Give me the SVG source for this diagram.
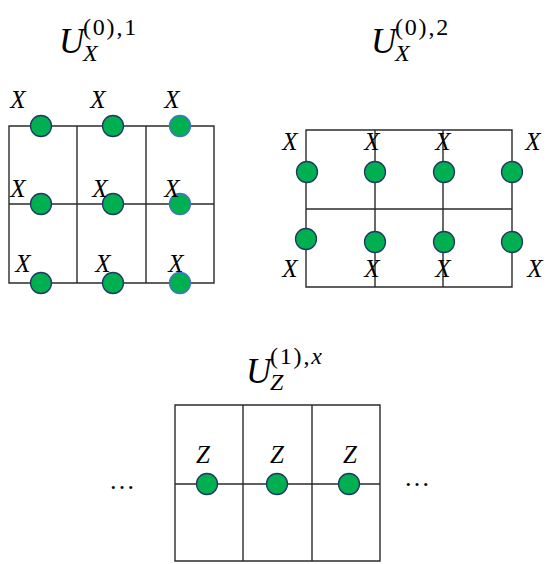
<svg xmlns="http://www.w3.org/2000/svg" width="555" height="564" viewBox="0 0 555 564">
<style>
.g{fill:none;stroke:#2b2b2b;stroke-width:1.4}
.q{fill:#00b050;stroke:#1f3864;stroke-width:1.3}
.qb{fill:#00b050;stroke:#4472c4;stroke-width:1.3}
.l{font-family:"Liberation Serif",serif;font-style:italic;font-size:25px;fill:#000;text-anchor:middle}
.U{font-family:"Liberation Serif",serif;font-style:italic;font-size:35px;fill:#000}
.s{font-family:"Liberation Serif",serif;font-size:24px;letter-spacing:1.8px;fill:#000}
.si{font-family:"Liberation Serif",serif;font-style:italic;font-size:24px;fill:#000}
.d{font-family:"Liberation Serif",serif;font-size:26px;fill:#000;text-anchor:middle}
</style>
<rect width="555" height="564" fill="#fff"/>
<g id="panel1">
  <text class="U" x="59" y="53">U</text>
  <text class="s" x="83" y="35">(0),1</text>
  <text class="si" x="83" y="61">X</text>
  <g id="grid1-lines">
    <path class="g" d="M9 126H214V283H9Z M77 126V283 M146 126V283 M9 204H214"/>
  </g>
  <g id="grid1-qubits">
    <circle class="q" cx="41" cy="126" r="10.5"/>
    <circle class="q" cx="113" cy="126" r="10.5"/>
    <circle class="qb" cx="180" cy="126" r="10.5"/>
    <circle class="q" cx="41" cy="204" r="10.5"/>
    <circle class="q" cx="113" cy="204" r="10.5"/>
    <circle class="qb" cx="180" cy="204" r="10.5"/>
    <circle class="q" cx="41" cy="283" r="10.5"/>
    <circle class="q" cx="113" cy="283" r="10.5"/>
    <circle class="qb" cx="180" cy="283" r="10.5"/>
    <text class="l" x="18" y="108">X</text>
    <text class="l" x="98" y="108">X</text>
    <text class="l" x="172" y="108">X</text>
    <text class="l" x="18" y="197">X</text>
    <text class="l" x="100" y="197">X</text>
    <text class="l" x="172" y="197">X</text>
    <text class="l" x="23" y="272">X</text>
    <text class="l" x="103" y="272">X</text>
    <text class="l" x="176" y="272">X</text>
  </g>
</g>
<g id="panel2">
  <text class="U" x="371" y="53">U</text>
  <text class="s" x="395" y="35">(0),2</text>
  <text class="si" x="395" y="61">X</text>
  <g id="grid2-lines">
    <path class="g" d="M306 130H512V287H306Z M375 130V287 M443 130V287 M306 209H512"/>
  </g>
  <g id="grid2-qubits">
    <circle class="q" cx="307" cy="172" r="10.5"/>
    <circle class="q" cx="375" cy="172" r="10.5"/>
    <circle class="q" cx="444" cy="172" r="10.5"/>
    <circle class="q" cx="512" cy="172" r="10.5"/>
    <circle class="q" cx="306" cy="239" r="10.5"/>
    <circle class="q" cx="375" cy="242" r="10.5"/>
    <circle class="q" cx="444" cy="242" r="10.5"/>
    <circle class="q" cx="512" cy="242" r="10.5"/>
    <text class="l" x="290" y="150">X</text>
    <text class="l" x="372" y="150">X</text>
    <text class="l" x="443" y="150">X</text>
    <text class="l" x="533" y="150">X</text>
    <text class="l" x="290" y="277">X</text>
    <text class="l" x="372" y="277">X</text>
    <text class="l" x="443" y="277">X</text>
    <text class="l" x="535" y="277">X</text>
  </g>
</g>
<g id="panel3">
  <text class="U" x="246" y="383">U</text>
  <text class="s" x="270" y="364">(1),<tspan class="si">x</tspan></text>
  <text class="si" x="270" y="390">Z</text>
  <g id="grid3-lines">
    <path class="g" d="M175 405H380V561H175Z M243 405V561 M312 405V561 M175 484H380"/>
  </g>
  <g id="grid3-qubits">
    <circle class="q" cx="207" cy="484" r="10.5"/>
    <circle class="q" cx="277" cy="484" r="10.5"/>
    <circle class="q" cx="349" cy="484" r="10.5"/>
    <text class="l" x="203" y="463">Z</text>
    <text class="l" x="277" y="463">Z</text>
    <text class="l" x="350" y="463">Z</text>
  </g>
  <text class="d" x="122" y="489">…</text>
  <text class="d" x="417" y="486">…</text>
</g>
</svg>
